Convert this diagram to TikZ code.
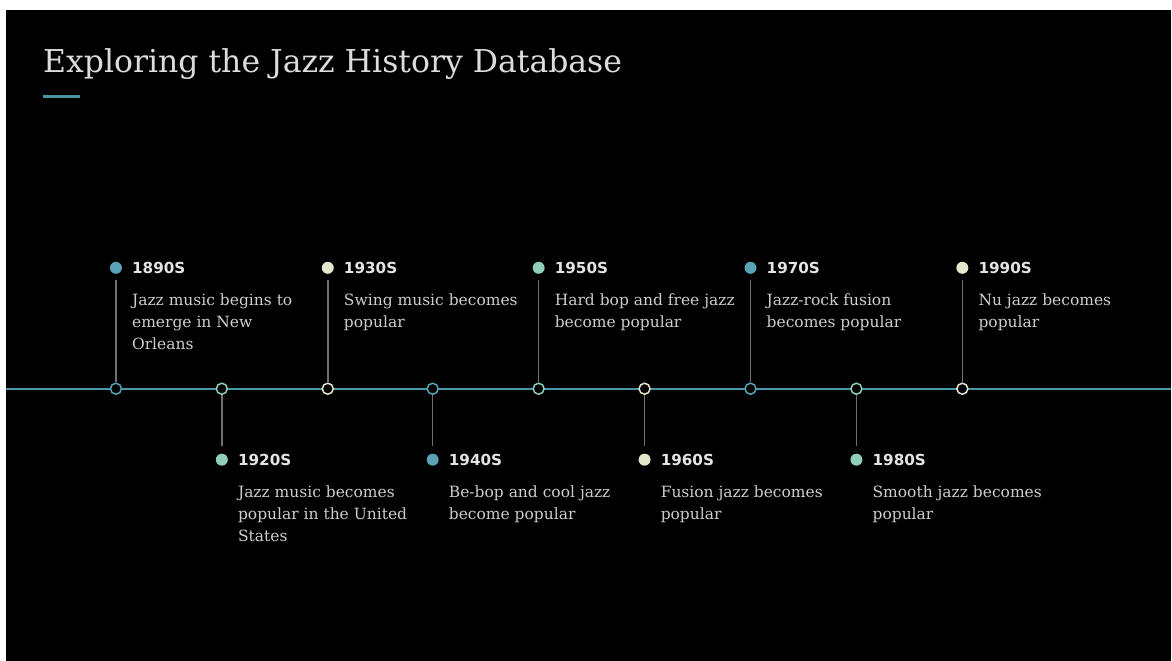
\documentclass[tikz,border=0pt]{standalone}
\usepackage{fontspec}
\setmainfont{DejaVu Serif}
\newfontfamily\yearfont{DejaVu Sans}
\definecolor{tealdot}{HTML}{5AA3B7}
\definecolor{mintdot}{HTML}{8DCFB8}
\definecolor{creamdot}{HTML}{E4E7CC}
\definecolor{axisteal}{HTML}{4A96A8}
\definecolor{stemgray}{HTML}{707070}
\definecolor{yeartext}{HTML}{E4E4E4}
\definecolor{desctext}{HTML}{CDCDCD}
\definecolor{titletext}{HTML}{DCDCDC}

\begin{document}
\begin{tikzpicture}[
    x=1pt, y=-1pt,
    ttl/.style={font=\fontsize{31.5}{36}\selectfont, text=titletext, anchor=west, inner sep=0pt},
    yr/.style={font=\yearfont\bfseries\fontsize{15.2}{18}\selectfont, text=yeartext,
               anchor=west, inner sep=0pt},
    desc/.style={font=\fontsize{15.5}{22}\selectfont, text=desctext, align=left,
                 anchor=north west, inner sep=0pt},
    dot/.style={circle, minimum size=12pt, inner sep=0pt},
    joint/.style={circle, minimum size=11pt, inner sep=0pt, line width=1.5pt, fill=black},
    stem/.style={draw=stemgray, line width=1.5pt},
    axis/.style={draw=axisteal, line width=1.6pt},
]

% ---- page and background ------------------------------------------------------
\fill[white] (0,0) rectangle (1172,661);
\fill[black] (6,10) rectangle (1172,661);

% ---- title ----------------------------------------------------------------------
\node[ttl] (title) at (43,64) {Exploring the Jazz History Database};
\fill[axisteal] (43,95.5) rectangle (80,98.5);

% ---- timeline axis --------------------------------------------------------------
\coordinate (tl) at (6,389);
\coordinate (tr) at (1172,389);
\draw[axis] (tl) -- (tr);

% ---- joints on the axis -----------------------------------------------------------
\node[joint, draw=tealdot]  (j1) at (116,389) {};
\node[joint, draw=mintdot]  (j2) at (222,389) {};
\node[joint, draw=creamdot] (j3) at (328,389) {};
\node[joint, draw=tealdot]  (j4) at (433,389) {};
\node[joint, draw=mintdot]  (j5) at (539,389) {};
\node[joint, draw=creamdot] (j6) at (645,389) {};
\node[joint, draw=tealdot]  (j7) at (751,389) {};
\node[joint, draw=mintdot]  (j8) at (857,389) {};
\node[joint, draw=creamdot] (j9) at (963,389) {};

% ---- events above the axis ----------------------------------------------------------
\node[dot, fill=tealdot]  (d1) at (116,268) {};
\node[yr] (y1) at (132,268) {1890S};
\node[desc] (t1) at (132,294) {Jazz music begins to\\emerge in New\\Orleans};

\node[dot, fill=creamdot] (d3) at (328,268) {};
\node[yr] (y3) at (344,268) {1930S};
\node[desc] (t3) at (344,294) {Swing music becomes\\popular};

\node[dot, fill=mintdot]  (d5) at (539,268) {};
\node[yr] (y5) at (555,268) {1950S};
\node[desc] (t5) at (555,294) {Hard bop and free jazz\\become popular};

\node[dot, fill=tealdot]  (d7) at (751,268) {};
\node[yr] (y7) at (767,268) {1970S};
\node[desc] (t7) at (767,294) {Jazz-rock fusion\\becomes popular};

\node[dot, fill=creamdot] (d9) at (963,268) {};
\node[yr] (y9) at (979,268) {1990S};
\node[desc] (t9) at (979,294) {Nu jazz becomes\\popular};

% ---- events below the axis ----------------------------------------------------------
\node[dot, fill=mintdot]  (d2) at (222,460) {};
\node[yr] (y2) at (238,460) {1920S};
\node[desc] (t2) at (238,486) {Jazz music becomes\\popular in the United\\States};

\node[dot, fill=tealdot]  (d4) at (433,460) {};
\node[yr] (y4) at (449,460) {1940S};
\node[desc] (t4) at (449,486) {Be-bop and cool jazz\\become popular};

\node[dot, fill=creamdot] (d6) at (645,460) {};
\node[yr] (y6) at (661,460) {1960S};
\node[desc] (t6) at (661,486) {Fusion jazz becomes\\popular};

\node[dot, fill=mintdot]  (d8) at (857,460) {};
\node[yr] (y8) at (873,460) {1980S};
\node[desc] (t8) at (873,486) {Smooth jazz becomes\\popular};

% ---- stems (dot -> joint) --------------------------------------------------------------
\draw[stem, shorten <=6pt] (d1) -- (j1);
\draw[stem, shorten <=6pt] (d3) -- (j3);
\draw[stem, shorten <=6pt] (d5) -- (j5);
\draw[stem, shorten <=6pt] (d7) -- (j7);
\draw[stem, shorten <=6pt] (d9) -- (j9);
\draw[stem, shorten >=8pt] (j2) -- (d2);
\draw[stem, shorten >=8pt] (j4) -- (d4);
\draw[stem, shorten >=8pt] (j6) -- (d6);
\draw[stem, shorten >=8pt] (j8) -- (d8);

\end{tikzpicture}
\end{document}
